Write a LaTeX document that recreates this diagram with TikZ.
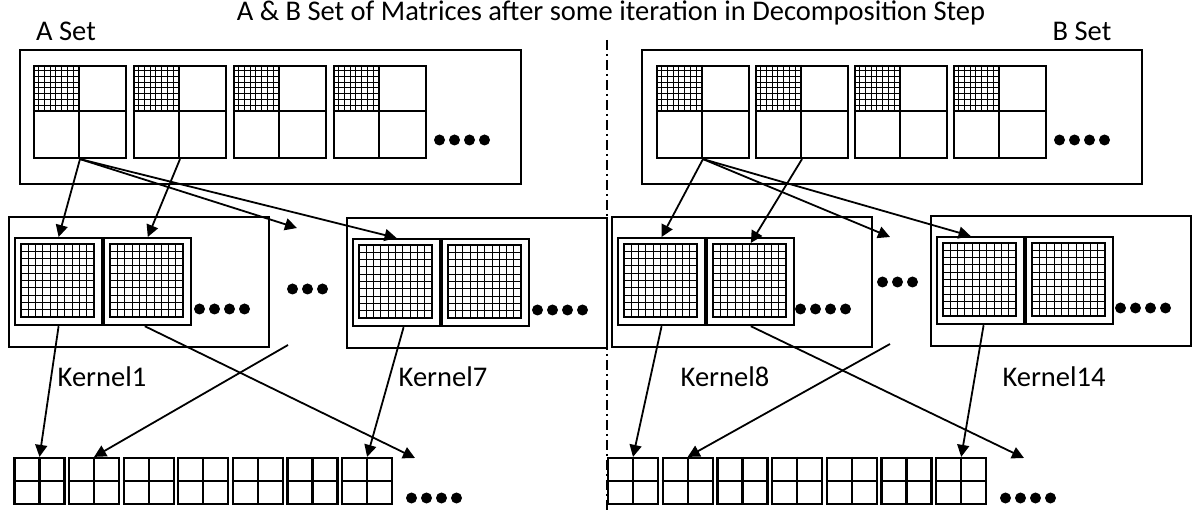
\documentclass[tikz,border=0pt]{standalone}
\usepackage{fontspec}
\setmainfont{Carlito}
\usetikzlibrary{arrows.meta,positioning}

\tikzset{
  lbl/.style={font=\fontsize{28.5}{32}\selectfont, inner sep=0pt},
  setbox/.style={draw, line width=2pt, anchor=north west, inner sep=0pt},
  kbox/.style={setbox, minimum width=260pt, minimum height=130pt},
  blockmat/.style={draw, line width=2.2pt, minimum size=92pt, inner sep=0pt},
  kmat/.style={draw, line width=2.2pt, minimum size=87pt, inner sep=0pt},
  cellmat/.style={draw, line width=2.2pt, minimum width=50pt, minimum height=46pt, inner sep=0pt},
  arr/.style={line width=1.8pt, -{Triangle[length=12pt,width=12pt]}}
}

% row of filled dots: x of first centre, y, count
\newcommand{\dotrow}[3]{\foreach \d in {1,...,#3} \fill ({#1+15*(\d-1)},#2) circle (5.5);}
% inside of a 2x2 block, first block hatched (local coords from north west)
\newcommand{\blockinside}{%
  \foreach \k in {1,...,7} {
    \draw[line width=0.9pt] (\k*5.75,0) -- (\k*5.75,46);
    \draw[line width=0.9pt] (0,\k*5.75) -- (46,\k*5.75);
  }
  \draw[line width=2.2pt] (46,0) -- (46,92) (0,46) -- (92,46);}
% inside of a kernel block: 10x10 grid
\newcommand{\kernelgrid}{%
  \foreach \k in {1,...,9} {
    \draw[line width=1pt] (7+\k*7.3,7) -- (7+\k*7.3,80);
    \draw[line width=1pt] (7,7+\k*7.3) -- (80,7+\k*7.3);
  }
  \draw[line width=2.2pt] (7,7) rectangle (80,80);}

\begin{document}
\begin{tikzpicture}[x=1pt,y=-1pt]
\useasboundingbox (0,0) rectangle (1192,510);

\node[lbl] (title) at (611,13) {A \& B Set of Matrices after some iteration in Decomposition Step};
\node[lbl] (aset) at (66,31) {A Set};
\node[lbl] (bset) at (1082,31) {B Set};

% divider
\draw[line width=1.5pt, dash pattern=on 10pt off 4pt on 2pt off 4pt] (607,40) -- (607,510);

% A and B sets
\node[setbox, minimum width=501pt, minimum height=134pt] (abox) at (19,49) {};
\node[setbox, minimum width=500pt, minimum height=134pt] (bbox) at (641,49) {};
\foreach \i in {1,...,4} {
  \node[blockmat] (a\i) at ({80+100*(\i-1)},112) {};
  \node[blockmat] (b\i) at ({703+99*(\i-1)},112) {};
  \begin{scope}[shift={(a\i.north west)}] \blockinside \end{scope}
  \begin{scope}[shift={(b\i.north west)}] \blockinside \end{scope}
}
\dotrow{439.5}{140}{4}
\dotrow{1059.5}{140}{4}

% kernels
\node[kbox] (k1) at (8,216) {};
\node[kbox] (k7) at (346,217) {};
\node[kbox] (k8) at (611,216) {};
\node[kbox] (k14) at (930,215) {};
\foreach \k in {1,7,8,14} {
  \node[kmat, anchor=north west] (k\k a) at ([shift={(6,21)}]k\k.north west) {};
  \node[kmat, right=0pt of k\k a] (k\k b) {};
  \begin{scope}[shift={(k\k a.north west)}] \kernelgrid \end{scope}
  \begin{scope}[shift={(k\k b.north west)}] \kernelgrid \end{scope}
}
\dotrow{199.5}{309}{4}
\dotrow{537.5}{310}{4}
\dotrow{800.5}{309}{4}
\dotrow{1120.5}{308}{4}
\dotrow{292.5}{289}{3}
\dotrow{882.5}{282}{3}

\node[lbl] (kl1) at (102,377) {Kernel1};
\node[lbl] (kl7) at (443,377) {Kernel7};
\node[lbl] (kl8) at (725,377) {Kernel8};
\node[lbl] (kl14) at (1054,377) {Kernel14};

% output blocks
\foreach \i in {1,...,7} {
  \node[cellmat] (l\i) at ({39.5+54.6*(\i-1)},481) {};
  \node[cellmat] (r\i) at ({633+54.7*(\i-1)},481) {};
  \draw[line width=2.2pt] (l\i.north) -- (l\i.south) (l\i.west) -- (l\i.east);
  \draw[line width=2.2pt] (r\i.north) -- (r\i.south) (r\i.west) -- (r\i.east);
}
\dotrow{411.5}{498}{4}
\dotrow{1005.5}{498}{4}

% free ends
\coordinate (amore) at (297,228);
\coordinate (bmore) at (890,237);
\coordinate (afrom) at (288,345);
\coordinate (bfrom) at (890,344);
\coordinate (aout) at (415,458);
\coordinate (bout) at (1024,458);

% A side
\draw[arr] (a1.south) -- (k1a.north);
\draw[arr] (a2.south) -- (k1b.north);
\draw[arr] (a1.south) -- (amore);
\draw[arr] (a1.south) -- (k7a.north);
\draw[arr] (k1a.south) -- (l1.north);
\draw[arr] ([xshift=-3pt]k1b.south) -- (aout);
\draw[arr] (afrom) -- (l2.north);
\draw[arr] ([xshift=7pt]k7a.south) -- (l7.north);

% B side
\draw[arr] (b1.south) -- (k8a.north);
\draw[arr] (b2.south) -- ([yshift=-6pt]k8b.north);
\draw[arr] (b1.south) -- (bmore);
\draw[arr] (b1.south) -- ([xshift=-10pt]k14a.north);
\draw[arr] (k8a.south) -- (r1.north);
\draw[arr] (k8b.south) -- (bout);
\draw[arr] (bfrom) -- (r2.north);
\draw[arr] ([xshift=3pt]k14a.south) -- (r7.north);
\end{tikzpicture}
\end{document}
